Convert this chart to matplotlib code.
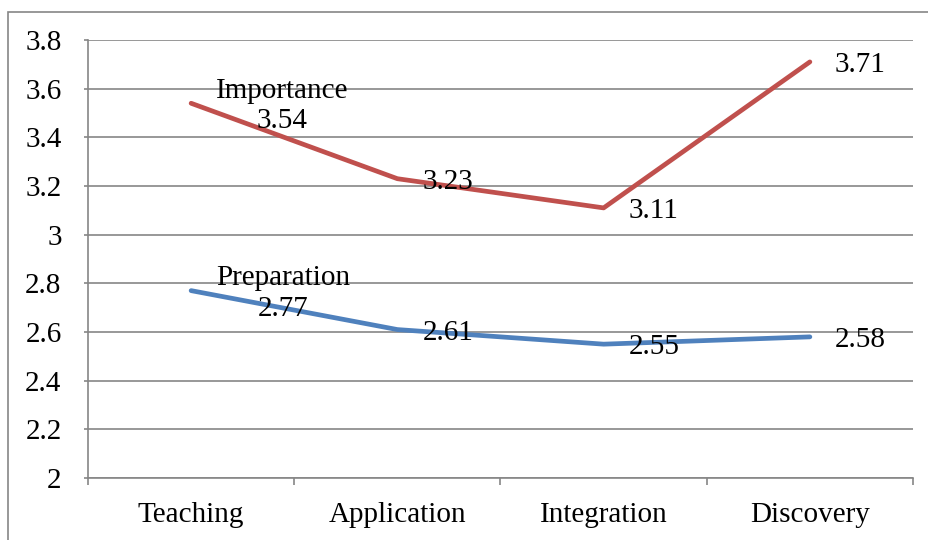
import matplotlib.pyplot as plt
from matplotlib.patches import Rectangle

# values
categories = ["Teaching", "Application", "Integration", "Discovery"]
importance = [3.54, 3.23, 3.11, 3.71]
preparation = [2.77, 2.61, 2.55, 2.58]
yticks = [2, 2.2, 2.4, 2.6, 2.8, 3, 3.2, 3.4, 3.6, 3.8]

plt.rcParams['font.family'] = ['Liberation Serif', 'DejaVu Serif']
grey = '#868686'
fs = 21

fig = plt.figure(figsize=(9.29, 5.4), dpi=100)
ax = fig.add_axes([88/929, 1-478/540, (913-88)/929, (478-40)/540])

# outer chart frame (cut off at right and bottom)
fig.patches.append(Rectangle((8/929, -0.1), 1.2, 1-12/540+0.1, transform=fig.transFigure,
                             fill=False, ec=grey, lw=1.2))

x = range(len(categories))
ax.plot(x, importance, color='#C0504D', lw=3.4, solid_capstyle='round')
ax.plot(x, preparation, color='#4F81BD', lw=3.4, solid_capstyle='round')

for i, v in enumerate(importance):
    txt = "Importance\n%.2f" % v if i == 0 else "%.2f" % v
    ax.annotate(txt, (i, v), xytext=(25, -3), textcoords='offset pixels',
                ha='left', va='center', multialignment='center', fontsize=fs,
                linespacing=1.22)
for i, v in enumerate(preparation):
    txt = "Preparation\n%.2f" % v if i == 0 else "%.2f" % v
    ax.annotate(txt, (i, v), xytext=(25, -3), textcoords='offset pixels',
                ha='left', va='center', multialignment='center', fontsize=fs,
                linespacing=1.22)

ax.set_xlim(-0.5, len(categories) - 0.5)
ax.set_ylim(2, 3.8)
ax.set_yticks(yticks)
ax.set_yticklabels(["%g" % t for t in yticks], fontsize=fs)
ax.yaxis.grid(True, color=grey, lw=1.2)
ax.set_axisbelow(True)

ax.set_xticks(list(x))
ax.set_xticklabels(categories, fontsize=fs)
ax.set_xticks([i - 0.5 for i in range(len(categories) + 1)], minor=True)
ax.tick_params(axis='x', which='major', length=0, pad=17)
ax.tick_params(axis='x', which='minor', length=5, color=grey, width=1.2)
ax.tick_params(axis='y', length=3, color=grey, width=1.2, pad=16)

for s in ['top', 'right']:
    ax.spines[s].set_visible(False)
for s in ['left', 'bottom']:
    ax.spines[s].set_color(grey)
    ax.spines[s].set_linewidth(1.2)

fig.savefig("out.png", dpi=100)
